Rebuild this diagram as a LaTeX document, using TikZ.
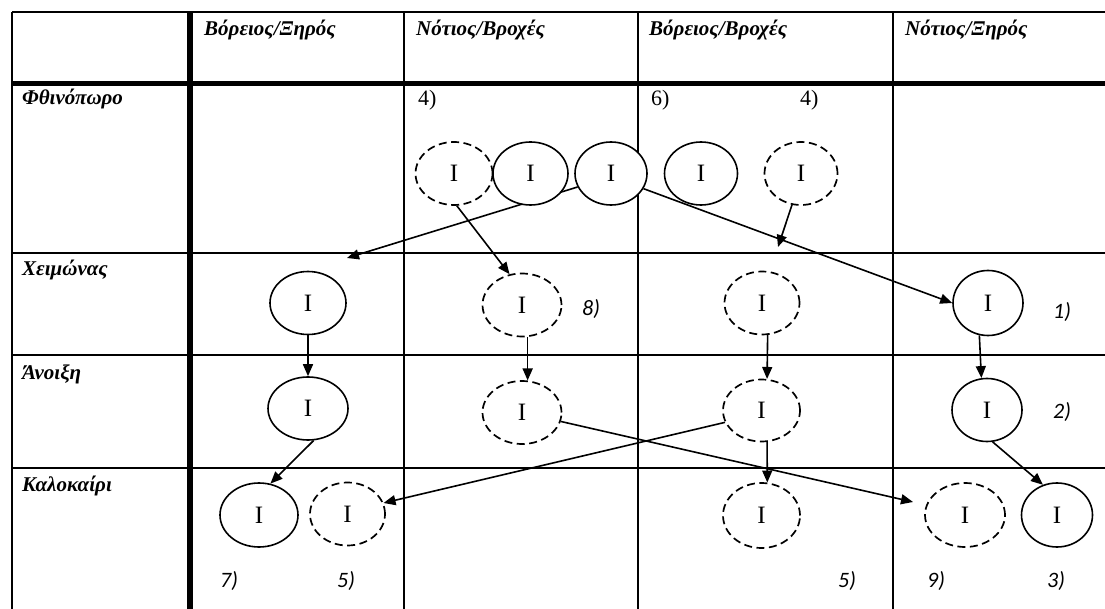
\documentclass[tikz,border=0pt]{standalone}
\usepackage{fontspec}
\setmainfont{Liberation Serif}
\newfontfamily\notefont{Carlito}
\usetikzlibrary{shapes.geometric,arrows.meta}
\pgfdeclarelayer{bg}
\pgfsetlayers{bg,main}

\begin{document}
\begin{tikzpicture}[x=1pt,y=-1pt,
  headtext/.style={anchor=base west,inner sep=0pt,font=\fontsize{21}{24}\selectfont\bfseries\itshape},
  num/.style={anchor=base west,inner sep=0pt,font=\fontsize{22}{24}\selectfont},
  note/.style={anchor=base west,inner sep=0pt,font=\notefont\fontsize{22}{24}\selectfont\itshape},
  oval/.style={ellipse,draw,line width=1.6pt,fill=white,minimum width=76pt,minimum height=63pt,inner sep=0pt,font=\fontsize{25}{26}\selectfont},
  doval/.style={oval,line width=1.7pt,dash pattern=on 8pt off 4.5pt},
  arr/.style={line width=1.6pt,-{Triangle[length=12pt,width=10pt]}},
  rule/.style={line width=2pt},
  heavy/.style={line width=5.5pt}]

\useasboundingbox (0,0) rectangle (1105,609);

% ---- column headings ----
\node[headtext] (h1) at (204,36) {Βόρειος/Ξηρός};
\node[headtext] (h2) at (416,36) {Νότιος/Βροχές};
\node[headtext] (h3) at (649,36) {Βόρειος/Βροχές};
\node[headtext] (h4) at (905,36) {Νότιος/Ξηρός};

% ---- seasons ----
\node[headtext] (s1) at (22,105) {Φθινόπωρο};
\node[headtext] (s2) at (22,276) {Χειμώνας};
\node[headtext] (s3) at (22,379) {Άνοιξη};
\node[headtext] (s4) at (22,491) {Καλοκαίρι};

% ---- numbers ----
\node[num] (n4a) at (418,106) {4)};
\node[num] (n6) at (651,106) {6)};
\node[num] (n4b) at (800,106) {4)};
\node[note] (n8) at (582,316) {8)};
\node[note] (n1) at (1053,319) {1)};
\node[note] (n2) at (1053,418) {2)};
\node[note] (n7) at (220,587) {7)};
\node[note] (n5a) at (337,587) {5)};
\node[note] (n5b) at (838,587) {5)};
\node[note] (n9) at (927,587) {9)};
\node[note] (n3) at (1047,587) {3)};

% ---- autumn ----
\node[doval,minimum width=77pt] (e1) at (454,173.5) {I};
\node[oval,minimum width=75pt] (e2) at (530.5,173.5) {I};
\node[oval,minimum width=72pt] (e3) at (611,173.5) {I};
\node[oval,minimum width=73pt] (e4) at (701,173.5) {I};
\node[doval,minimum width=73pt] (e5) at (801,173.5) {I};

% ---- winter ----
\node[oval] (x2) at (308,303) {I};
\node[doval,minimum width=79pt] (x3) at (522,305) {I};
\node[doval,minimum width=75pt] (x4) at (762,303) {I};
\node[oval,minimum width=70pt,minimum height=65pt] (x5) at (988,303) {I};

% ---- spring ----
\node[oval,minimum width=80pt] (a2) at (308,408.5) {I};
\node[doval,minimum width=79pt] (a3) at (522,412.5) {I};
\node[doval,minimum width=77pt,minimum height=62pt] (a4) at (761.5,410.5) {I};
\node[oval,minimum width=70pt] (a5) at (987,410) {I};

% ---- summer ----
\node[oval,minimum width=78pt,minimum height=64pt] (k2s) at (259,515) {I};
\node[doval,minimum width=75pt] (k2d) at (347.5,514) {I};
\node[doval,minimum width=77pt,minimum height=65pt] (k4) at (761.5,515.5) {I};
\node[doval,minimum width=80pt,minimum height=64pt] (k5d) at (965,515) {I};
\node[oval,minimum width=71pt,minimum height=64pt] (k5s) at (1057,515) {I};

% free arrow tips
\coordinate (t1) at (347,258);
\coordinate (t2) at (778,247);
\coordinate (t3) at (913,502);

\begin{pgfonlayer}{bg}
  % table grid
  \draw[rule] (12,12) -- (1105,12);
  \draw[rule] (12,253) -- (1105,253);
  \draw[rule] (12,355) -- (1105,355);
  \draw[rule] (12,468) -- (1105,468);
  \draw[rule] (12,12) -- (12,609);
  \draw[rule] (404,12) -- (404,609);
  \draw[rule] (637.5,12) -- (637.5,609);
  \draw[rule] (893,12) -- (893,609);
  \draw[heavy] (12,83.5) -- (1105,83.5);
  \draw[heavy] (190,12) -- (190,609);

  % transitions
  \draw[arr] (e3.202) -- (t1);
  \draw[arr] (e3.-25) -- (x5.west);
  \draw[arr] (e1.-85) -- (x3.112);
  \draw[arr] (e5.-106) -- (t2);
  \draw[arr] (x2.south) -- (a2.north);
  \draw[arr] (a2.-80) -- (k2s.70);
  \draw[arr] (x3.-80) -- (a3.80);
  \draw[arr] (x4.-80) -- (a4.80);
  \draw[arr] (a4.-80) -- (k4.80);
  \draw[arr] (x5.-105) -- (a5.100);
  \draw[arr] (a5.-80) -- (k5s.115);
  \draw[arr] (a3.-13) -- (t3);
  \draw[arr] (a4.198) -- (k2d.17);
\end{pgfonlayer}
\end{tikzpicture}
\end{document}
